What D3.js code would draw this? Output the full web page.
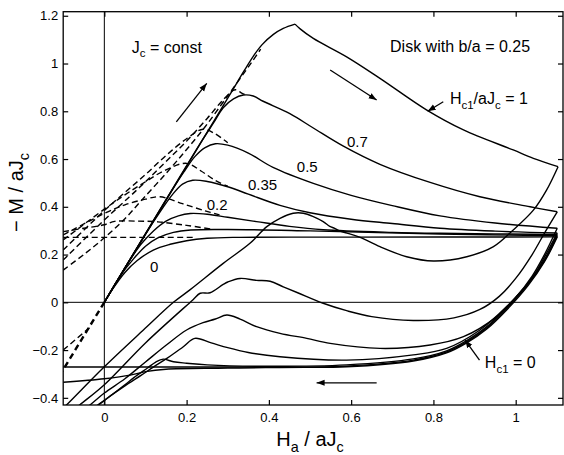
<!DOCTYPE html>
<html><head><meta charset="utf-8">
<script src="https://cdn.jsdelivr.net/npm/d3@7"></script>
<style>
body{margin:0;background:#fff}
text{font-family:"Liberation Sans",Arial,Helvetica,sans-serif;fill:#000}
</style>
</head><body>
<svg id="c" width="564" height="455"></svg>
<script>
// ---------- data ----------
const xTicks = [0, 0.2, 0.4, 0.6, 0.8, 1];
const yTicks = [-0.4, -0.2, 0, 0.2, 0.4, 0.6, 0.8, 1, 1.2];
const hc1Labels = ["0", "0.2", "0.35", "0.5", "0.7"];

// virgin (increasing field) branches
const virgin0   = [[0,0],[0.02,0.055],[0.05,0.125],[0.08,0.175],[0.119,0.219],[0.16,0.243],[0.2,0.258],[0.25,0.268],[0.32,0.272],[0.6,0.273],[1.101,0.274]];
const virgin01  = [[0,0],[0.04,0.114],[0.07,0.18],[0.1,0.235],[0.13,0.27],[0.168,0.293],[0.21,0.303],[0.3,0.305],[0.5,0.299],[0.816,0.286],[1.101,0.279]];
const virgin02  = [[0,0],[0.06,0.171],[0.09,0.245],[0.12,0.3],[0.15,0.34],[0.18,0.362],[0.209,0.372],[0.25,0.369],[0.3,0.356],[0.37,0.338],[0.45,0.318],[0.532,0.304],[0.7,0.293],[0.816,0.289],[1.101,0.284]];
const virgin035 = [[0,0],[0.1,0.285],[0.14,0.39],[0.165,0.45],[0.19,0.495],[0.215,0.511],[0.25,0.506],[0.3,0.484],[0.35,0.453],[0.427,0.406],[0.5,0.375],[0.6,0.348],[0.7,0.33],[0.816,0.31],[0.95,0.298],[1.101,0.29]];
const virgin05  = [[0,0],[0.17,0.485],[0.195,0.55],[0.22,0.61],[0.245,0.648],[0.27,0.664],[0.3,0.658],[0.35,0.625],[0.41,0.565],[0.508,0.498],[0.6,0.448],[0.7,0.405],[0.816,0.362],[0.95,0.332],[1.101,0.31]];
const virgin07  = [[0,0],[0.24,0.684],[0.265,0.75],[0.289,0.815],[0.314,0.852],[0.338,0.868],[0.362,0.864],[0.386,0.842],[0.451,0.79],[0.508,0.73],[0.58,0.655],[0.67,0.578],[0.792,0.502],[0.913,0.442],[1.035,0.40],[1.101,0.379]];
const virgin1up = [[0,0],[0.3,0.855],[0.34,0.97],[0.362,1.03],[0.383,1.078],[0.411,1.122],[0.435,1.147],[0.4636,1.165]];
const virgin1dn = [[0.4636,1.165],[0.476,1.145],[0.508,1.105],[0.589,1.028],[0.67,0.938],[0.784,0.805],[0.873,0.722],[0.994,0.638],[1.043,0.603],[1.103,0.568]];

// decreasing field branches
const desc1   = [[1.103,0.568],[1.075,0.47],[1.043,0.386],[0.994,0.303],[0.946,0.233],[0.881,0.191],[0.80,0.173],[0.735,0.191],[0.67,0.233],[0.622,0.272],[0.59,0.29],[0.573,0.298],[0.56,0.31],[0.548,0.318],[0.532,0.338],[0.508,0.359],[0.484,0.373],[0.459,0.373],[0.427,0.352],[0.395,0.317],[0.354,0.247],[0.289,0.163],[0.208,0.052],[0.168,0.0],[0.095,-0.116],[0,-0.27],[-0.092,-0.43],[-0.11,-0.46]];
const desc07  = [[1.101,0.379],[1.07,0.29],[1.04,0.2],[1.0,0.1],[0.96,0.025],[0.913,-0.03],[0.85,-0.065],[0.751,-0.076],[0.65,-0.06],[0.589,-0.035],[0.532,-0.004],[0.47,0.04],[0.435,0.065],[0.403,0.088],[0.37,0.092],[0.33,0.10],[0.3,0.085],[0.289,0.075],[0.257,0.04],[0.233,0.038],[0.215,0.01],[0.1,-0.17],[0,-0.345],[-0.06,-0.43],[-0.08,-0.46]];
const desc05  = [[1.101,0.31],[1.07,0.2],[1.04,0.11],[1.0,0.02],[0.954,-0.06],[0.873,-0.144],[0.792,-0.179],[0.67,-0.193],[0.549,-0.172],[0.492,-0.151],[0.427,-0.13],[0.37,-0.102],[0.33,-0.07],[0.298,-0.053],[0.27,-0.07],[0.24,-0.085],[0.2,-0.116],[0.15,-0.18],[0.1,-0.25],[0.05,-0.32],[0,-0.38],[-0.035,-0.43],[-0.06,-0.46]];
const desc035 = [[1.101,0.29],[1.07,0.19],[1.04,0.1],[0.978,-0.018],[0.913,-0.116],[0.832,-0.193],[0.751,-0.22],[0.589,-0.242],[0.427,-0.228],[0.35,-0.21],[0.3,-0.19],[0.26,-0.17],[0.22,-0.151],[0.192,-0.186],[0.152,-0.235],[0.12,-0.27],[0.09,-0.305],[0.05,-0.35],[0,-0.41],[-0.02,-0.435],[-0.04,-0.46]];
const desc02  = [[1.101,0.284],[1.07,0.18],[1.03,0.08],[0.978,-0.02],[0.929,-0.103],[0.881,-0.16],[0.832,-0.203],[0.751,-0.237],[0.589,-0.262],[0.4,-0.268],[0.25,-0.262],[0.2,-0.255],[0.168,-0.249],[0.143,-0.238],[0.125,-0.25],[0.105,-0.275],[0.08,-0.305],[0.05,-0.345],[0.02,-0.385],[-0.01,-0.425],[-0.03,-0.45]];
const desc01  = [[1.101,0.279],[1.07,0.175],[1.03,0.075],[0.978,-0.027],[0.929,-0.108],[0.881,-0.166],[0.832,-0.208],[0.751,-0.242],[0.589,-0.267],[0.3,-0.275],[0.15,-0.28],[0.1,-0.29],[0.063,-0.305],[0,-0.32],[-0.1,-0.335]];
const desc0   = [[1.101,0.274],[1.07,0.17],[1.03,0.07],[0.978,-0.032],[0.929,-0.113],[0.881,-0.17],[0.832,-0.212],[0.751,-0.246],[0.589,-0.27],[0.4,-0.271],[0.2,-0.271],[-0.1,-0.271]];

// increasing branches after reversal (dashed where they differ)
const asc0   = [[-0.1,0.272],[0.22,0.272]];
const asc01  = [[-0.1,0.296],[-0.05,0.31],[0,0.325],[0.025,0.339],[0.08,0.34],[0.13,0.337],[0.2,0.322],[0.26,0.307]];
const asc02  = [[-0.1,0.282],[0,0.372],[0.05,0.408],[0.1,0.432],[0.135,0.442],[0.19,0.413],[0.245,0.383],[0.28,0.366]];
const asc035 = [[-0.1,0.261],[0,0.39],[0.05,0.45],[0.1,0.505],[0.15,0.555],[0.2,0.582],[0.235,0.55],[0.27,0.51],[0.3,0.486]];
const asc05  = [[-0.1,0.219],[0,0.384],[0.05,0.46],[0.1,0.535],[0.15,0.615],[0.2,0.685],[0.24,0.725],[0.27,0.705],[0.3,0.668]];
const asc07  = [[-0.1,0.177],[0,0.345],[0.06,0.44],[0.1,0.505],[0.15,0.59],[0.2,0.675],[0.25,0.77],[0.29,0.85],[0.318,0.89],[0.335,0.875],[0.345,0.868]];
const asc1   = [[-0.1,0.135],[-0.05,0.2],[0,0.27],[0.05,0.35],[0.092,0.43],[0.15,0.54],[0.2,0.64],[0.245,0.735],[0.3,0.865],[0.358,1.005],[0.38,1.06]];
const meissnerNeg  = [[0,0],[-0.11,-0.31]];
const meissnerNeg2 = [[-0.1,-0.2],[-0.035,-0.105]];

// annotation arrows [x1,y1,x2,y2] (data units)
const arrows = [[0.175,0.756,0.249,0.917],[0.549,0.973,0.662,0.847],[0.662,-0.337,0.516,-0.337]];
const pointers = [[0.824,0.840,0.786,0.800],[0.912,-0.242,0.877,-0.158]];
// curve label anchors (data units)
const labelPos = [[0.111,0.128],[0.249,0.3865],[0.349,0.47],[0.468,0.547],[0.59,0.652]];

// ---------- drawing ----------
const svg = d3.select("#c");
const x = d3.scaleLinear().domain([-0.1, 1.115]).range([63.2, 563]);
const y = d3.scaleLinear().domain([-0.43, 1.217]).range([405, 11.7]);
const X0 = x(-0.1), X1 = x(1.115), Y0 = y(-0.43), Y1 = y(1.217);

const defs = svg.append("defs");
defs.append("clipPath").attr("id","plot").append("rect")
  .attr("x",X0).attr("y",Y1).attr("width",X1-X0).attr("height",Y0-Y1);
defs.append("marker").attr("id","ah").attr("markerUnits","userSpaceOnUse")
  .attr("markerWidth",9).attr("markerHeight",7).attr("refX",8).attr("refY",3.5)
  .attr("orient","auto").append("path").attr("d","M0,0.5 L8,3.5 L0,6.5 Z").attr("fill","#000");

// zero lines
svg.append("line").attr("x1",x(0)).attr("x2",x(0)).attr("y1",Y1).attr("y2",Y0).attr("stroke","#000").attr("stroke-width",1);
svg.append("line").attr("x1",X0).attr("x2",X1).attr("y1",y(0)).attr("y2",y(0)).attr("stroke","#000").attr("stroke-width",1);

const g = svg.append("g").attr("clip-path","url(#plot)");
const smooth = d3.line().x(d=>x(d[0])).y(d=>y(d[1])).curve(d3.curveCatmullRom.alpha(0.5));

const solids = [virgin0,virgin01,virgin02,virgin035,virgin05,virgin07,virgin1up,virgin1dn,
                desc1,desc07,desc05,desc035,desc02,desc01,desc0];
solids.forEach(s=>g.append("path").attr("d",smooth(s)).attr("fill","none")
  .attr("stroke","#000").attr("stroke-width",1.4).attr("stroke-linejoin","round"));

const dashes = [asc0,asc01,asc02,asc035,asc05,asc07,asc1,meissnerNeg2];
dashes.forEach(s=>g.append("path").attr("d",smooth(s)).attr("fill","none")
  .attr("stroke","#000").attr("stroke-width",1.4).attr("stroke-dasharray","6,3.5"));
g.append("path").attr("d",smooth(meissnerNeg)).attr("fill","none")
  .attr("stroke","#000").attr("stroke-width",2.4).attr("stroke-dasharray","6,4");

// arrows
arrows.concat(pointers).forEach(a=>svg.append("line")
  .attr("x1",x(a[0])).attr("y1",y(a[1])).attr("x2",x(a[2])).attr("y2",y(a[3]))
  .attr("stroke","#000").attr("stroke-width",1.3).attr("marker-end","url(#ah)"));

// axes
const fmt = d => d3.format("")(d);
const ax = svg.append("g").attr("transform",`translate(0,${Y0})`)
  .call(d3.axisBottom(x).tickValues(xTicks).tickSize(-5).tickSizeOuter(0).tickPadding(8).tickFormat(fmt));
const axT = svg.append("g").attr("transform",`translate(0,${Y1})`)
  .call(d3.axisTop(x).tickValues(xTicks).tickSize(-5).tickSizeOuter(0).tickFormat(""));
const ay = svg.append("g").attr("transform",`translate(${X0},0)`)
  .call(d3.axisLeft(y).tickValues(yTicks).tickSize(-5).tickSizeOuter(0).tickPadding(5).tickFormat(fmt));
const ayR = svg.append("g").attr("transform",`translate(${X1},0)`)
  .call(d3.axisRight(y).tickValues(yTicks).tickSize(-5).tickSizeOuter(0).tickFormat(""));
[ax,axT,ay,ayR].forEach(a=>{
  a.select(".domain").remove();
  a.selectAll(".tick line").attr("stroke","#000").attr("stroke-width",1.2);
  a.selectAll("text").attr("font-size",13).attr("font-family",null).attr("fill","#000");
});
svg.append("rect").attr("x",X0).attr("y",Y1).attr("width",X1-X0).attr("height",Y0-Y1)
  .attr("fill","none").attr("stroke","#000").attr("stroke-width",1.3);

// curve labels
labelPos.forEach((p,i)=>svg.append("text").attr("x",x(p[0])).attr("y",y(p[1]))
  .attr("font-size",15).text(hc1Labels[i]));

// annotations with subscripts
function sub(t, parts, size){
  parts.forEach(p=>{
    const ts = t.append("tspan").text(p[0]);
    if(p[1]===1){ ts.attr("font-size",size*0.72).attr("dy",size*0.3); }
    else if(p[1]===-1){ ts.attr("dy",-size*0.3); }
  });
}
let t;
t = svg.append("text").attr("x",x(0.0666)).attr("y",y(1.046)).attr("font-size",16);
sub(t,[["J",0],["c",1],[" = const",-1]],16);
t = svg.append("text").attr("x",x(0.6945)).attr("y",y(1.049)).attr("font-size",16);
t.text("Disk with b/a = 0.25");
t = svg.append("text").attr("x",x(0.84)).attr("y",y(0.83)).attr("font-size",16);
sub(t,[["H",0],["c1",1],["/aJ",-1],["c",1],[" = 1",-1]],16);
t = svg.append("text").attr("x",x(0.925)).attr("y",y(-0.276)).attr("font-size",16);
sub(t,[["H",0],["c1",1],[" = 0",-1]],16);

// axis titles
t = svg.append("text").attr("x",x(0.5)).attr("y",446).attr("text-anchor","middle").attr("font-size",20);
sub(t,[["H",0],["a",1],[" / aJ",-1],["c",1]],20);
t = svg.append("text").attr("transform",`translate(23,${y(0.46)}) rotate(-90)`).attr("text-anchor","middle").attr("font-size",20);
sub(t,[["\u2212 M / aJ",0],["c",1]],20);
</script>
</body></html>
